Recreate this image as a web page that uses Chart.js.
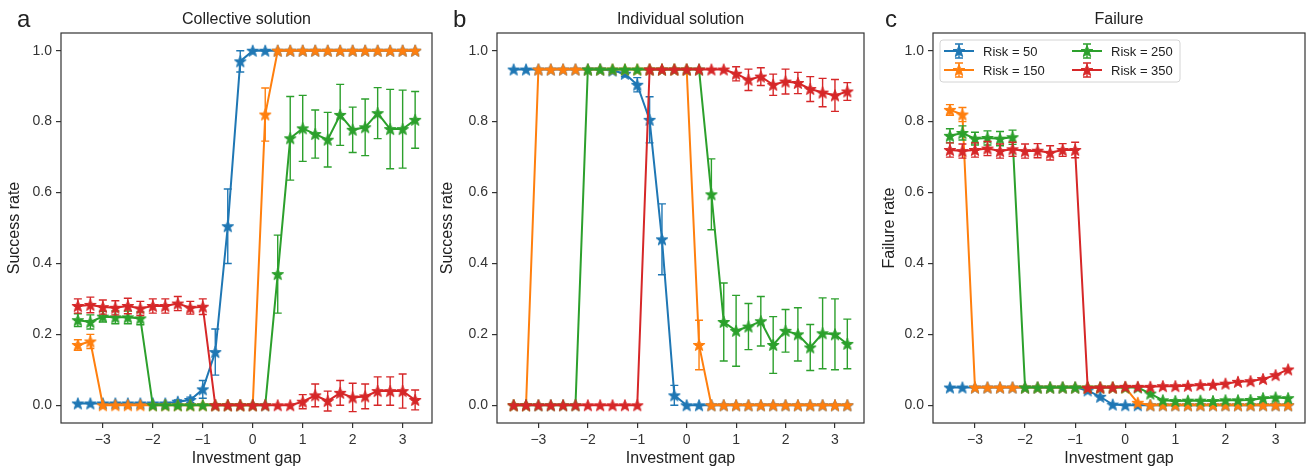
<!DOCTYPE html>
<html>
<head>
<meta charset="utf-8">
<script src="https://cdn.jsdelivr.net/npm/chart.js@4.4.1/dist/chart.umd.min.js"></script>
<style>
  body { margin: 0; background: #fff; overflow: hidden; }
  .panel { position: absolute; top: 0; height: 474px; }
</style>
</head>
<body>
<div class="panel" style="left:0"><canvas id="chart-a" width="441" height="474"></canvas></div>
<div class="panel" style="left:436px"><canvas id="chart-b" width="437" height="474"></canvas></div>
<div class="panel" style="left:868px"><canvas id="chart-c" width="446" height="474"></canvas></div>
<script>
// x values (investment gap) shared by every series
const gap = [-3.5, -3.25, -3, -2.75, -2.5, -2.25, -2, -1.75, -1.5, -1.25, -1, -0.75, -0.5, -0.25,
             0, 0.25, 0.5, 0.75, 1, 1.25, 1.5, 1.75, 2, 2.25, 2.5, 2.75, 3, 3.25];
const xTicks = [-3, -2, -1, 0, 1, 2, 3];
const yTicks = [0, 0.2, 0.4, 0.6, 0.8, 1.0];
const riskLabels = ["Risk = 50", "Risk = 150", "Risk = 250", "Risk = 350"];
const riskColors = ["#1f77b4", "#ff7f0e", "#2ca02c", "#d62728"];

// a) Collective solution
const collective50 = [0.005, 0.005, 0.005, 0.005, 0.005, 0.005, 0.005, 0.005, 0.01, 0.015, 0.045, 0.15, 0.505, 0.97,
                      1, 1, 1, 1, 1, 1, 1, 1, 1, 1, 1, 1, 1, 1];
const collective50Err = [0, 0, 0, 0, 0, 0, 0, 0, 0.005, 0.008, 0.025, 0.065, 0.105, 0.03,
                         0, 0, 0, 0, 0, 0, 0, 0, 0, 0, 0, 0, 0, 0];
const collective150 = [0.17, 0.18, 0, 0, 0, 0, 0, 0, 0, 0, 0, 0, 0, 0,
                       0, 0.82, 1, 1, 1, 1, 1, 1, 1, 1, 1, 1, 1, 1];
const collective150Err = [0.015, 0.02, 0, 0, 0, 0, 0, 0, 0, 0, 0, 0, 0, 0,
                          0, 0.075, 0, 0, 0, 0, 0, 0, 0, 0, 0, 0, 0, 0];
const collective250 = [0.24, 0.235, 0.25, 0.248, 0.248, 0.245, 0, 0, 0, 0, 0, 0, 0, 0,
                       0, 0, 0.37, 0.753, 0.781, 0.765, 0.749, 0.819, 0.777, 0.784, 0.824, 0.779, 0.779, 0.805];
const collective250Err = [0.018, 0.02, 0.015, 0.018, 0.018, 0.018, 0, 0, 0, 0, 0, 0, 0, 0,
                          0, 0, 0.11, 0.118, 0.093, 0.068, 0.077, 0.086, 0.064, 0.08, 0.072, 0.112, 0.11, 0.08];
const collective350 = [0.28, 0.283, 0.277, 0.275, 0.28, 0.273, 0.28, 0.28, 0.287, 0.275, 0.278, 0, 0, 0,
                       0, 0, 0, 0, 0.01, 0.028, 0.012, 0.035, 0.022, 0.025, 0.04, 0.04, 0.04, 0.015];
const collective350Err = [0.02, 0.022, 0.02, 0.02, 0.022, 0.02, 0.02, 0.02, 0.02, 0.018, 0.022, 0, 0, 0,
                          0, 0, 0, 0, 0.02, 0.032, 0.028, 0.035, 0.04, 0.035, 0.04, 0.04, 0.048, 0.028];

// b) Individual solution
const individual50 = [0.947, 0.947, 0.947, 0.947, 0.947, 0.947, 0.947, 0.947, 0.944, 0.935, 0.904, 0.805, 0.468, 0.028,
                      0, 0, 0, 0, 0, 0, 0, 0, 0, 0, 0, 0, 0, 0];
const individual50Err = [0, 0, 0, 0, 0, 0, 0, 0, 0.005, 0.008, 0.02, 0.065, 0.1, 0.028,
                         0, 0, 0, 0, 0, 0, 0, 0, 0, 0, 0, 0, 0, 0];
const individual150 = [0, 0, 0.947, 0.947, 0.947, 0.947, 0.947, 0.947, 0.947, 0.947, 0.947, 0.947, 0.947, 0.947,
                       0.947, 0.17, 0, 0, 0, 0, 0, 0, 0, 0, 0, 0, 0, 0];
const individual150Err = [0, 0, 0, 0, 0, 0, 0, 0, 0, 0, 0, 0, 0, 0,
                          0, 0.07, 0, 0, 0, 0, 0, 0, 0, 0, 0, 0, 0, 0];
const individual250 = [0, 0, 0, 0, 0, 0, 0.947, 0.947, 0.947, 0.947, 0.947, 0.947, 0.947, 0.947,
                       0.947, 0.947, 0.595, 0.235, 0.21, 0.222, 0.237, 0.17, 0.21, 0.2, 0.163, 0.203, 0.2, 0.173];
const individual250Err = [0, 0, 0, 0, 0, 0, 0, 0, 0, 0, 0, 0, 0, 0,
                          0, 0, 0.1, 0.11, 0.1, 0.065, 0.07, 0.08, 0.06, 0.075, 0.065, 0.1, 0.1, 0.07];
const individual350 = [0, 0, 0, 0, 0, 0, 0, 0, 0, 0, 0, 0.947, 0.947, 0.947,
                       0.947, 0.947, 0.947, 0.947, 0.935, 0.918, 0.927, 0.904, 0.913, 0.909, 0.892, 0.882, 0.874, 0.885];
const individual350Err = [0, 0, 0, 0, 0, 0, 0, 0, 0, 0, 0, 0, 0, 0,
                          0, 0, 0, 0, 0.02, 0.03, 0.025, 0.03, 0.035, 0.03, 0.035, 0.04, 0.045, 0.025];

// c) Failure
const failure50 = [0.05, 0.05, 0.05, 0.05, 0.05, 0.05, 0.05, 0.05, 0.05, 0.05, 0.05, 0.042, 0.024, 0.002,
                   0, 0, 0, 0, 0, 0, 0, 0, 0, 0, 0, 0, 0, 0];
const failure50Err = [0, 0, 0, 0, 0, 0, 0, 0, 0, 0, 0, 0, 0, 0,
                      0, 0, 0, 0, 0, 0, 0, 0, 0, 0, 0, 0, 0, 0];
const failure150 = [0.833, 0.82, 0.05, 0.05, 0.05, 0.05, 0.05, 0.05, 0.05, 0.05, 0.05, 0.05, 0.05, 0.05,
                    0.05, 0.007, 0, 0, 0, 0, 0, 0, 0, 0, 0, 0, 0, 0];
const failure150Err = [0.015, 0.02, 0, 0, 0, 0, 0, 0, 0, 0, 0, 0, 0, 0,
                       0, 0, 0, 0, 0, 0, 0, 0, 0, 0, 0, 0, 0, 0];
const failure250 = [0.76, 0.768, 0.752, 0.754, 0.752, 0.756, 0.05, 0.05, 0.05, 0.05, 0.05, 0.05, 0.05, 0.05,
                    0.05, 0.05, 0.033, 0.014, 0.012, 0.013, 0.013, 0.012, 0.014, 0.014, 0.015, 0.02, 0.022, 0.02];
const failure250Err = [0.02, 0.02, 0.018, 0.02, 0.02, 0.02, 0, 0, 0, 0, 0, 0, 0, 0,
                       0, 0, 0, 0, 0, 0, 0, 0, 0, 0, 0, 0, 0, 0];
const failure350 = [0.72, 0.717, 0.72, 0.724, 0.717, 0.722, 0.717, 0.718, 0.712, 0.72, 0.72, 0.049, 0.05, 0.05,
                    0.052, 0.052, 0.052, 0.054, 0.054, 0.055, 0.057, 0.058, 0.061, 0.066, 0.068, 0.074, 0.085, 0.101];
const failure350Err = [0.02, 0.02, 0.02, 0.02, 0.02, 0.02, 0.02, 0.02, 0.02, 0.018, 0.022, 0, 0, 0,
                       0, 0, 0, 0, 0, 0, 0, 0, 0, 0, 0, 0, 0, 0];

const FONT = "'Liberation Sans', Arial, sans-serif";

// filled five-point star, like matplotlib's "*" marker
function makeStar(color) {
    const c = document.createElement("canvas");
    c.width = 16; c.height = 16;
    const g = c.getContext("2d");
    const R = 6.2, r = 2.6;
    g.beginPath();
    for (let k = 0; k < 10; k++) {
        const rad = k % 2 === 0 ? R : r;
        const a = -Math.PI / 2 + k * Math.PI / 5;
        const px = 8 + rad * Math.cos(a), py = 8.5 + rad * Math.sin(a);
        if (k === 0) g.moveTo(px, py); else g.lineTo(px, py);
    }
    g.closePath();
    g.fillStyle = color;
    g.fill();
    g.lineWidth = 1;
    g.lineJoin = "round";
    g.strokeStyle = color;
    g.stroke();
    return c;
}
const stars = riskColors.map(makeStar);

function fmtTick(v) {
    return v < 0 ? "\u2212" + Math.abs(v) : String(v);
}

// error bars drawn just before each series, same colour
const errorBars = {
    id: "errorBars",
    beforeDatasetDraw(chart, args) {
        const ds = chart.data.datasets[args.index];
        if (!ds.errors) return;
        const ys = chart.scales.y;
        const ctx = chart.ctx;
        ctx.save();
        ctx.strokeStyle = ds.borderColor;
        ctx.lineWidth = 1.4;
        args.meta.data.forEach((pt, i) => {
            const e = ds.errors[i];
            if (!e) return;
            const v = ds.data[i].y;
            const top = ys.getPixelForValue(v + e);
            const bot = ys.getPixelForValue(v - e);
            ctx.beginPath();
            ctx.moveTo(pt.x, top); ctx.lineTo(pt.x, bot);
            ctx.moveTo(pt.x - 4, top); ctx.lineTo(pt.x + 4, top);
            ctx.moveTo(pt.x - 4, bot); ctx.lineTo(pt.x + 4, bot);
            ctx.stroke();
        });
        ctx.restore();
    }
};

// frame round the plot, panel letter and title
const panelDecor = {
    id: "panelDecor",
    afterDraw(chart, args, opts) {
        const { ctx, chartArea: a } = chart;
        ctx.save();
        ctx.strokeStyle = "#333";
        ctx.lineWidth = 1.2;
        ctx.strokeRect(a.left, a.top, a.right - a.left, a.bottom - a.top);
        ctx.fillStyle = "#222";
        ctx.textBaseline = "alphabetic";
        ctx.textAlign = "left";
        ctx.font = "24px " + FONT;
        ctx.fillText(opts.letter, 17, 27);
        ctx.textAlign = "center";
        ctx.font = "16px " + FONT;
        ctx.fillText(opts.title, (a.left + a.right) / 2, 24);
        ctx.restore();
    }
};

// matplotlib-style legend with two columns
const riskLegend = {
    id: "riskLegend",
    afterDraw(chart, args, opts) {
        if (!opts.show) return;
        const { ctx, chartArea: a } = chart;
        const left = a.left + 7, top = a.top + 7, w = 240, h = 42;
        ctx.save();
        ctx.beginPath();
        ctx.roundRect(left, top, w, h, 3);
        ctx.fillStyle = "rgba(255,255,255,0.8)";
        ctx.fill();
        ctx.strokeStyle = "#d4d4d4";
        ctx.lineWidth = 1;
        ctx.stroke();
        ctx.font = "13px " + FONT;
        ctx.textBaseline = "middle";
        ctx.textAlign = "left";
        riskLabels.forEach((lab, i) => {
            const col = Math.floor(i / 2), row = i % 2;
            const hx = left + 4 + col * 128;
            const cy = top + 11 + row * 19;
            const mx = hx + 15;
            ctx.strokeStyle = riskColors[i];
            ctx.lineWidth = 2;
            ctx.beginPath(); ctx.moveTo(hx, cy); ctx.lineTo(hx + 30, cy); ctx.stroke();
            ctx.lineWidth = 1.4;
            ctx.beginPath();
            ctx.moveTo(mx, cy - 7); ctx.lineTo(mx, cy + 7);
            ctx.moveTo(mx - 4, cy - 7); ctx.lineTo(mx + 4, cy - 7);
            ctx.moveTo(mx - 4, cy + 7); ctx.lineTo(mx + 4, cy + 7);
            ctx.stroke();
            ctx.drawImage(stars[i], mx - 8, cy - 8);
            ctx.fillStyle = "#222";
            ctx.fillText(lab, hx + 39, cy + 1);
        });
        ctx.restore();
    }
};

function buildChart(id, cfg) {
    const series = cfg.series.map((vals, i) => ({
        label: riskLabels[i],
        data: gap.map((g, k) => ({ x: g, y: vals[k] })),
        errors: cfg.errors[i],
        borderColor: riskColors[i],
        backgroundColor: riskColors[i],
        borderWidth: 2,
        pointStyle: stars[i],
        pointRadius: 7,
        tension: 0,
        order: 3 - i
    }));
    return new Chart(document.getElementById(id), {
        type: "line",
        data: { datasets: series },
        options: {
            responsive: false,
            animation: false,
            devicePixelRatio: 1,
            layout: { padding: { left: 0, top: 33, right: cfg.padRight, bottom: 0 } },
            plugins: {
                legend: { display: false },
                tooltip: { enabled: false },
                panelDecor: { letter: cfg.letter, title: cfg.title },
                riskLegend: { show: !!cfg.legend }
            },
            scales: {
                x: {
                    type: "linear",
                    min: -3.8375,
                    max: 3.5875,
                    afterBuildTicks: s => { s.ticks = xTicks.map(v => ({ value: v })); },
                    afterFit: s => { s.height = 51; },
                    grid: { drawOnChartArea: false, tickLength: 5, tickColor: "#333", lineWidth: 1.2 },
                    border: { display: false },
                    ticks: { autoSkip: false, maxRotation: 0, padding: 4, color: "#333",
                             font: { family: FONT, size: 14 }, callback: v => fmtTick(v) },
                    title: { display: true, text: "Investment gap", color: "#222",
                             font: { family: FONT, size: 16 }, padding: { top: 0, bottom: 6 } }
                },
                y: {
                    min: -0.05,
                    max: 1.05,
                    afterBuildTicks: s => { s.ticks = yTicks.map(v => ({ value: v })); },
                    afterFit: s => { s.width = cfg.axisWidth; },
                    grid: { drawOnChartArea: false, tickLength: 5, tickColor: "#333", lineWidth: 1.2 },
                    border: { display: false },
                    ticks: { padding: 4, color: "#333", font: { family: FONT, size: 14 },
                             callback: v => v.toFixed(1) },
                    title: { display: true, text: cfg.yTitle, color: "#222",
                             font: { family: FONT, size: 16 }, padding: { top: cfg.yTitlePad, bottom: 0 } }
                }
            }
        },
        plugins: [errorBars, panelDecor, riskLegend]
    });
}

buildChart("chart-a", {
    letter: "a", title: "Collective solution", yTitle: "Success rate",
    axisWidth: 61, padRight: 3, yTitlePad: 5,
    series: [collective50, collective150, collective250, collective350],
    errors: [collective50Err, collective150Err, collective250Err, collective350Err]
});
buildChart("chart-b", {
    letter: "b", title: "Individual solution", yTitle: "Success rate",
    axisWidth: 61, padRight: 3, yTitlePad: 2,
    series: [individual50, individual150, individual250, individual350],
    errors: [individual50Err, individual150Err, individual250Err, individual350Err]
});
buildChart("chart-c", {
    letter: "c", title: "Failure", yTitle: "Failure rate",
    axisWidth: 65, padRight: 2, yTitlePad: 12, legend: true,
    series: [failure50, failure150, failure250, failure350],
    errors: [failure50Err, failure150Err, failure250Err, failure350Err]
});
</script>
</body>
</html>
